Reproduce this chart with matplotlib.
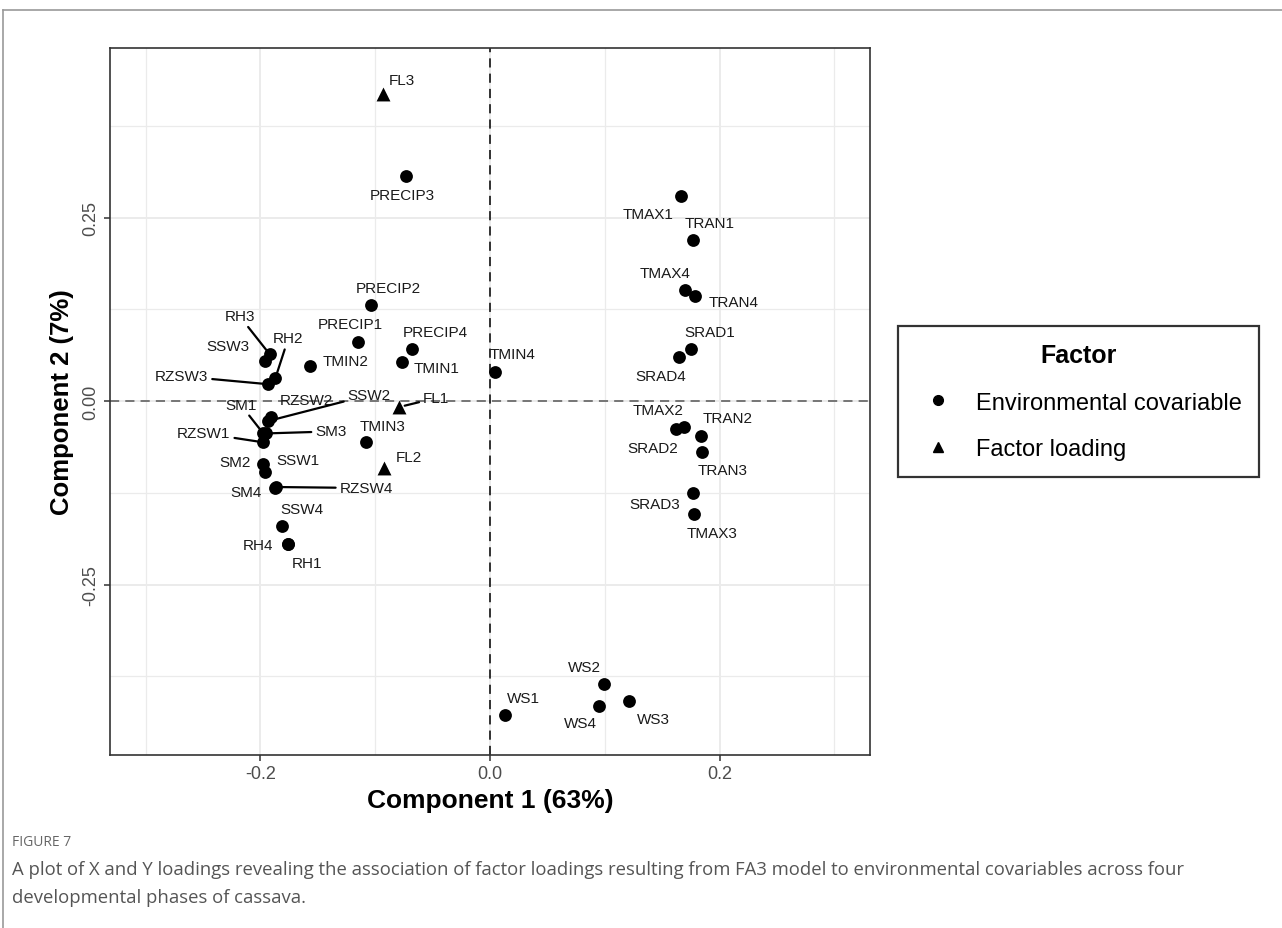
import matplotlib.pyplot as plt
from matplotlib.lines import Line2D

plt.rcParams['font.family'] = ['Liberation Sans', 'DejaVu Sans']

# loadings
labels = ['FL3', 'PRECIP3', 'TMAX1', 'TRAN1', 'TMAX4', 'TRAN4', 'SRAD1', 'SRAD4',
          'TMIN4', 'PRECIP2', 'PRECIP1', 'PRECIP4', 'TMIN1', 'TMIN2', 'RH3', 'SSW3',
          'RH2', 'RZSW3', 'FL1', 'RZSW2', 'SSW2', 'SM1', 'SM3', 'RZSW1', 'TMIN3',
          'FL2', 'SM2', 'SSW1', 'SM4', 'RZSW4', 'SSW4', 'RH4', 'RH1',
          'TMAX2', 'SRAD2', 'TRAN2', 'TRAN3', 'SRAD3', 'TMAX3',
          'WS2', 'WS1', 'WS4', 'WS3']
comp1 = [-0.093, -0.073, 0.166, 0.177, 0.170, 0.179, 0.175, 0.165,
         0.004, -0.104, -0.115, -0.068, -0.077, -0.157, -0.192, -0.196,
         -0.187, -0.193, -0.079, -0.191, -0.193, -0.198, -0.195, -0.198, -0.108,
         -0.092, -0.198, -0.196, -0.187, -0.186, -0.181, -0.176, -0.176,
         0.169, 0.162, 0.184, 0.185, 0.177, 0.178,
         0.099, 0.013, 0.095, 0.121]
comp2 = [0.418, 0.307, 0.279, 0.219, 0.151, 0.143, 0.071, 0.060,
         0.040, 0.131, 0.080, 0.071, 0.053, 0.048, 0.064, 0.054,
         0.031, 0.023, -0.008, -0.021, -0.027, -0.043, -0.044, -0.056, -0.056,
         -0.091, -0.086, -0.096, -0.118, -0.117, -0.170, -0.194, -0.194,
         -0.035, -0.038, -0.048, -0.069, -0.125, -0.154,
         -0.385, -0.427, -0.415, -0.408]
kind = ['Factor loading' if n.startswith('FL') else 'Environmental covariable' for n in labels]

# label placement (pixel offsets from the point), like ggrepel output
offsets = {
    'FL3': (19, 14), 'PRECIP3': (-4, -19), 'TMAX1': (-32, -18), 'TRAN1': (16, 17),
    'TMAX4': (-20, 17), 'TRAN4': (38, -6), 'SRAD1': (19, 17), 'SRAD4': (-19, -19),
    'TMIN4': (18, 18), 'PRECIP2': (18, 17), 'PRECIP1': (-8, 18), 'PRECIP4': (23, 17),
    'TMIN1': (35, -6), 'TMIN2': (36, 5), 'RH3': (-30, 38), 'SSW3': (-37, 15),
    'RH2': (13, 40), 'RZSW3': (-87, 8), 'FL1': (37, 9), 'RZSW2': (36, 17),
    'SSW2': (101, 26), 'SM1': (-22, 28), 'SM3': (65, 2), 'RZSW1': (-59, 9),
    'TMIN3': (17, 16), 'FL2': (25, 11), 'SM2': (-28, 2), 'SSW1': (33, 12),
    'SM4': (-29, -4), 'RZSW4': (90, -1), 'SSW4': (20, 17), 'RH4': (-30, -1),
    'RH1': (19, -19), 'TMAX2': (-26, 17), 'SRAD2': (-23, -19), 'TRAN2': (26, 18),
    'TRAN3': (20, -18), 'SRAD3': (-38, -11), 'TMAX3': (18, -19),
    'WS2': (-19, 17), 'WS1': (19, 17), 'WS4': (-19, -17), 'WS3': (25, -18),
}
with_segment = {'RH3', 'RH2', 'RZSW3', 'SSW2', 'SM1', 'SM3', 'RZSW1', 'FL1', 'RZSW4'}

fig = plt.figure(figsize=(12.82, 9.29), dpi=100)
ax = fig.add_axes([0.0858, 0.1862, 0.5928, 0.7611])

ax.axhline(0, color='#555555', lw=1.1, ls=(0, (6, 4)), zorder=1)
ax.axvline(0, color='black', lw=1.1, ls=(0, (6, 4)), zorder=1)

markers = {'Environmental covariable': 'o', 'Factor loading': '^'}
for k, m in markers.items():
    xs = [x for x, kk in zip(comp1, kind) if kk == k]
    ys = [y for y, kk in zip(comp2, kind) if kk == k]
    ax.scatter(xs, ys, marker=m, s=85 if m == 'o' else 100, color='black',
               linewidths=0, zorder=3)

for n, x, y in zip(labels, comp1, comp2):
    dx, dy = offsets[n]
    arrow = None
    if n in with_segment:
        arrow = dict(arrowstyle='-', color='black', lw=1.6, shrinkA=1, shrinkB=4)
    ax.annotate(n, (x, y), xytext=(dx, dy), textcoords='offset pixels',
                ha='center', va='center', fontsize=11, color='#1a1a1a',
                arrowprops=arrow, zorder=4)

ax.set_xlim(-0.331, 0.331)
ax.set_ylim(-0.482, 0.481)
ax.set_xticks([-0.2, 0.0, 0.2])
ax.set_xticklabels(['-0.2', '0.0', '0.2'])
ax.set_yticks([-0.25, 0.0, 0.25])
ax.set_yticklabels(['-0.25', '0.00', '0.25'], rotation=90, va='center')
ax.set_xticks([-0.3, -0.1, 0.1, 0.3], minor=True)
ax.set_yticks([-0.375, -0.125, 0.125, 0.375], minor=True)
ax.tick_params(which='major', length=4, width=1.1, color='#333333',
               labelcolor='#4D4D4D', labelsize=13)
ax.tick_params(which='minor', length=0)
ax.grid(True, which='major', color='#EBEBEB', lw=1.4, zorder=0)
ax.grid(True, which='minor', color='#EBEBEB', lw=0.9, zorder=0)
ax.set_axisbelow(True)
for s in ax.spines.values():
    s.set_color('#333333')
    s.set_linewidth(1.2)

ax.set_xlabel('Component 1 (63%)', fontsize=19, fontweight='bold', labelpad=4)
ax.set_ylabel('Component 2 (7%)', fontsize=18.5, fontweight='bold', labelpad=6)

handles = [Line2D([], [], marker=m, ls='none', color='black', markersize=7)
           for m in markers.values()]
leg = fig.legend(handles, list(markers.keys()), title='Factor',
                 loc='center', bbox_to_anchor=(0.841, 0.5667),
                 fontsize=17, title_fontproperties={'weight': 'bold', 'size': 18},
                 frameon=True, fancybox=False, edgecolor='black',
                 borderpad=0.72, labelspacing=1.05, handletextpad=0.6,
                 borderaxespad=0)
leg.get_frame().set_linewidth(1.6)

# journal frame and caption
fig.add_artist(Line2D([3 / 1282, 1], [1 - 11 / 929] * 2, transform=fig.transFigure,
                      color='#9a9a9a', lw=1.2))
fig.add_artist(Line2D([3 / 1282] * 2, [0, 1 - 11 / 929], transform=fig.transFigure,
                      color='#9a9a9a', lw=1.2))
fig.text(12 / 1282, 1 - 843 / 929, 'FIGURE 7', fontsize=10, color='#666666',
         family=['Open Sans', 'DejaVu Sans'], va='center')
fig.text(12 / 1282, 1 - 870 / 929,
         'A plot of X and Y loadings revealing the association of factor loadings '
         'resulting from FA3 model to environmental covariables across four',
         fontsize=13.3, color='#555555', family=['Open Sans', 'DejaVu Sans'], va='center')
fig.text(12 / 1282, 1 - 898 / 929, 'developmental phases of cassava.',
         fontsize=13.3, color='#555555', family=['Open Sans', 'DejaVu Sans'], va='center')

fig.savefig('out.png', dpi=100)
